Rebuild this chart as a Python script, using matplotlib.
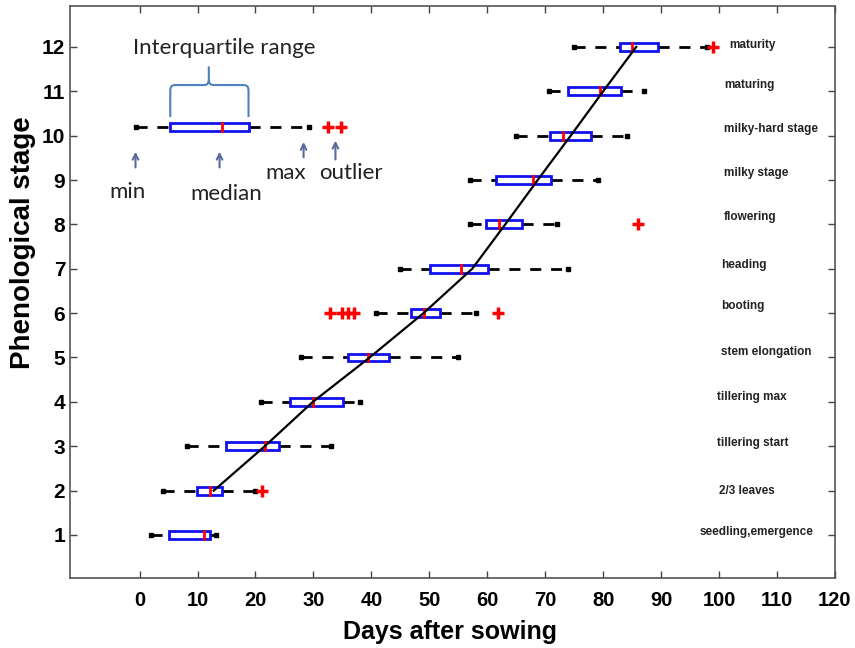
import numpy as np
import matplotlib
matplotlib.use('Agg')
import matplotlib.pyplot as plt
from matplotlib.patches import Rectangle, PathPatch
from matplotlib.path import Path

# phenological stages, box statistics in days after sowing
stages = np.arange(1, 13)
stage_names = ['seedling,emergence', '2/3 leaves', 'tillering start', 'tillering max',
               'stem elongation', 'booting', 'heading', 'flowering', 'milky stage',
               'milky-hard stage', 'maturing', 'maturity']
whisker_lo = [2.0, 4.0, 8.1, 21.0, 27.8, 40.8, 45.0, 57.1, 57.0, 65.0, 70.6, 75.0]
q1 = [5.0, 9.9, 15.0, 25.9, 35.9, 46.9, 50.1, 59.8, 61.5, 70.9, 73.9, 82.9]
median = [11.1, 12.1, 21.6, 29.9, 39.5, 49.0, 55.5, 62.1, 67.9, 73.0, 79.5, 84.9]
q3 = [12.2, 14.3, 24.1, 35.1, 43.1, 51.9, 60.1, 66.0, 71.0, 77.9, 83.1, 89.4]
whisker_hi = [13.2, 20.0, 33.1, 38.0, 55.0, 58.1, 74.0, 72.0, 79.1, 84.1, 87.0, 97.9]
outliers = {2: [21.2], 6: [32.9, 35.0, 35.9, 37.0, 61.9], 8: [86.0], 12: [98.9]}

# simulated development curve
model_days = [12.8, 21.6, 29.9, 39.7, 49.0, 57.4, 63.1, 68.7, 74.4, 80.0, 85.7]
model_stage = [2, 3, 4, 5, 6, 7, 8, 9, 10, 11, 12]

# explanatory sample box (min, q1, median, q3, max, outliers)
key_stats = [-0.7, 5.3, 14.3, 18.8, 29.2]
key_outliers = [32.5, 34.8]
key_y = 10.2

x_ticks = np.arange(0, 121, 10)

box_h = 0.18
blue = '#1010f0'


def draw_box(ax, y, lo, a, m, b, hi, outs):
    ax.plot([lo, a], [y, y], color='k', lw=2, dashes=(4, 3.5), zorder=2)
    ax.plot([b, hi], [y, y], color='k', lw=2, dashes=(4, 3.5), zorder=2)
    ax.plot([lo, hi], [y, y], ls='none', marker='s', ms=3.5, color='k', zorder=3)
    ax.add_patch(Rectangle((a, y - box_h / 2), b - a, box_h, facecolor='white',
                           edgecolor=blue, lw=2, zorder=3))
    ax.plot([m, m], [y - box_h / 2, y + box_h / 2], color='red', lw=2, zorder=4)
    if outs:
        ax.plot(outs, [y] * len(outs), ls='none', marker='+', ms=8, mew=2.5,
                color='red', zorder=4)


fig = plt.figure(figsize=(8.55, 6.48), dpi=100)
ax = fig.add_axes([0.0819, 0.108, 0.8947, 0.8826])

for i, s in enumerate(stages):
    draw_box(ax, s, whisker_lo[i], q1[i], median[i], q3[i], whisker_hi[i],
             outliers.get(s, []))

ax.plot(model_days, model_stage, color='k', lw=1.6, zorder=5)

# stage names on the right
label_x = [96.6, 99.9, 99.6, 99.6, 100.3, 100.4, 100.4, 100.8, 100.8, 100.8, 100.9, 101.8]
label_dy = [0.07, 0.0, 0.07, 0.11, 0.12, 0.16, 0.09, 0.16, 0.16, 0.16, 0.14, 0.05]
for i, s in enumerate(stages):
    ax.text(label_x[i], s + label_dy[i], stage_names[i], fontsize=8.5, fontweight='bold',
            color='#222222', ha='left', va='center', family='Liberation Sans')

# explanatory key
draw_box(ax, key_y, *key_stats, key_outliers)

annot_font = dict(family=['Lato', 'DejaVu Sans'], color='#222222', fontsize=16,
                  ha='center', va='center')
ax.text(14.6, 11.98, 'Interquartile range', **annot_font)

xl, xr, xc = 5.3, 18.8, 11.95
yb, ym, yt = 10.42, 11.14, 11.56
r = 0.8
verts = [(xl, yb), (xl, ym - 0.12), (xl, ym), (xl + r, ym),
         (xc - r, ym), (xc, ym), (xc, ym + 0.12), (xc, yt),
         (xc, ym + 0.12), (xc, ym), (xc + r, ym),
         (xr - r, ym), (xr, ym), (xr, ym - 0.12), (xr, yb)]
codes = [Path.MOVETO, Path.LINETO, Path.CURVE3, Path.CURVE3,
         Path.LINETO, Path.CURVE3, Path.CURVE3, Path.LINETO,
         Path.MOVETO, Path.CURVE3, Path.CURVE3,
         Path.LINETO, Path.CURVE3, Path.CURVE3, Path.LINETO]
ax.add_patch(PathPatch(Path(verts, codes), facecolor='none', edgecolor='#4f81bd', lw=1.5))

arrow_kw = dict(arrowstyle='->', color='#5a6a9a', lw=1.5)
ax.annotate('', xy=(-0.7, 9.7), xytext=(-0.7, 9.22), arrowprops=arrow_kw)
ax.annotate('', xy=(13.8, 9.7), xytext=(13.8, 9.22), arrowprops=arrow_kw)
ax.annotate('', xy=(28.3, 9.92), xytext=(28.3, 9.45), arrowprops=arrow_kw)
ax.annotate('', xy=(33.8, 9.95), xytext=(33.8, 9.4), arrowprops=arrow_kw)
ax.text(-2.1, 8.72, 'min', **annot_font)
ax.text(15.0, 8.69, 'median', **annot_font)
ax.text(25.2, 9.16, 'max', **annot_font)
ax.text(36.5, 9.16, 'outlier', **annot_font)

ax.set_xlim(-12, 120)
ax.set_ylim(0.03, 12.92)
ax.set_xticks(x_ticks)
ax.set_yticks(stages)
ax.tick_params(direction='in', length=5, top=True, right=True, width=1, color='#444444')
ax.tick_params(axis='x', pad=9)
for lab in ax.get_xticklabels():
    lab.set_family(['Liberation Sans Narrow', 'Liberation Sans'])
    lab.set_fontweight('bold')
    lab.set_fontsize(14.5)
for lab in ax.get_yticklabels():
    lab.set_family('Liberation Sans')
    lab.set_fontweight('bold')
    lab.set_fontsize(15)
for sp in ax.spines.values():
    sp.set_color('#555555')
    sp.set_linewidth(1.2)

fig.text(0.526, 0.025, 'Days after sowing', fontsize=18, fontweight='bold',
         ha='center', va='center', family=['Liberation Sans Narrow', 'Liberation Sans'])
fig.text(0.027, 0.625, 'Phenological stage', fontsize=20, fontweight='bold',
         ha='center', va='center', rotation=90, family='Liberation Sans')

fig.savefig('out.png', dpi=100)
